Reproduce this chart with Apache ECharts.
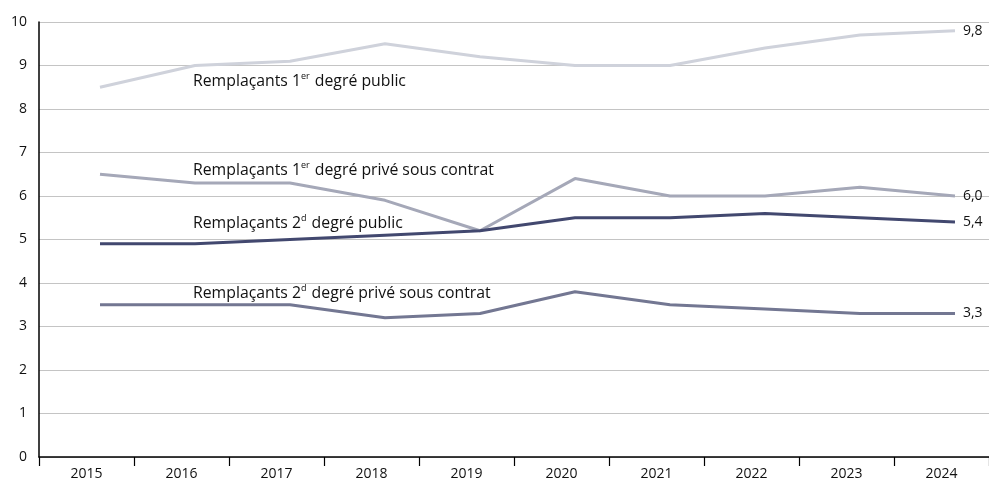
<!DOCTYPE html>
<html><head><meta charset="utf-8">
<script src="https://cdn.jsdelivr.net/npm/echarts@6/dist/echarts.min.js"></script>
<style>html,body{margin:0;padding:0;background:#fff}#c{width:989px;height:481px}</style>
</head><body><div id="c"></div>
<script>
const years = [2015,2016,2017,2018,2019,2020,2021,2022,2023,2024];
const yTicks = [0,1,2,3,4,5,6,7,8,9,10];
const pub1 = [8.5,9.0,9.1,9.5,9.2,9.0,9.0,9.4,9.7,9.8];
const priv1 = [6.5,6.3,6.3,5.9,5.2,6.4,6.0,6.0,6.2,6.0];
const pub2 = [4.9,4.9,5.0,5.1,5.2,5.5,5.5,5.6,5.5,5.4];
const priv2 = [3.5,3.5,3.5,3.2,3.3,3.8,3.5,3.4,3.3,3.3];
const names = [
  ['Remplaçants 1','er',' degré public'],
  ['Remplaçants 1','er',' degré privé sous contrat'],
  ['Remplaçants 2','d',' degré public'],
  ['Remplaçants 2','d',' degré privé sous contrat']
];
const colors = ['#cfd2db','#a5a8b8','#42486f','#737792'];
const FONT = 'Open Sans';
const chart = echarts.init(document.getElementById('c'));
function mk(vals, i){
  return {
    type:'line', xAxisIndex:1, symbol:'none', z: 3+i,
    lineStyle:{width:3,color:colors[i]}, itemStyle:{color:colors[i]},
    endLabel:{show:true, distance:8, color:'#111', fontSize:14, fontFamily:FONT,
      formatter:(p)=>p.value[1].toFixed(1).replace('.',',')},
    data: vals.map((v,k)=>[years[k],v])
  };
}
const labelY = [78,167,220,290];
const graphics = names.map((n,i)=>({
  type:'text', left:193, top:labelY[i]-11, z:10,
  style:{
    text:'{a|'+n[0]+'}{s|'+n[1]+'}{a|'+n[2]+'}',
    rich:{
      a:{fontSize:15.8, fontFamily:FONT, fill:'#111', lineHeight:22, verticalAlign:'bottom'},
      s:{fontSize:9, fontFamily:FONT, fill:'#111', lineHeight:22, verticalAlign:'top', padding:[5,1,0,0]}
    }
  }
}));
chart.setOption({
  animation:false,
  grid:{left:39,right:0,top:22,bottom:24,containLabel:false},
  xAxis:[
    {type:'category', data:years.map(String), boundaryGap:true,
     axisLine:{lineStyle:{color:'#000',width:1.5}},
     axisTick:{show:true,length:9,lineStyle:{color:'#000',width:1.2}},
     axisLabel:{color:'#111',fontSize:14,fontFamily:FONT,margin:10},
     splitLine:{show:false}},
    {type:'value', min:2014.358, max:2024.358, show:false}
  ],
  yAxis:{type:'value', min:yTicks[0], max:yTicks[yTicks.length-1], interval:1,
    axisLine:{show:true,lineStyle:{color:'#000',width:1.5}},
    axisTick:{show:false},
    axisLabel:{color:'#111',fontSize:14,fontFamily:FONT,margin:12},
    splitLine:{lineStyle:{color:'#c4c4c4',width:1}}},
  series:[mk(pub1,0),mk(priv1,1),mk(pub2,2),mk(priv2,3)],
  graphic:graphics
});
</script></body></html>
